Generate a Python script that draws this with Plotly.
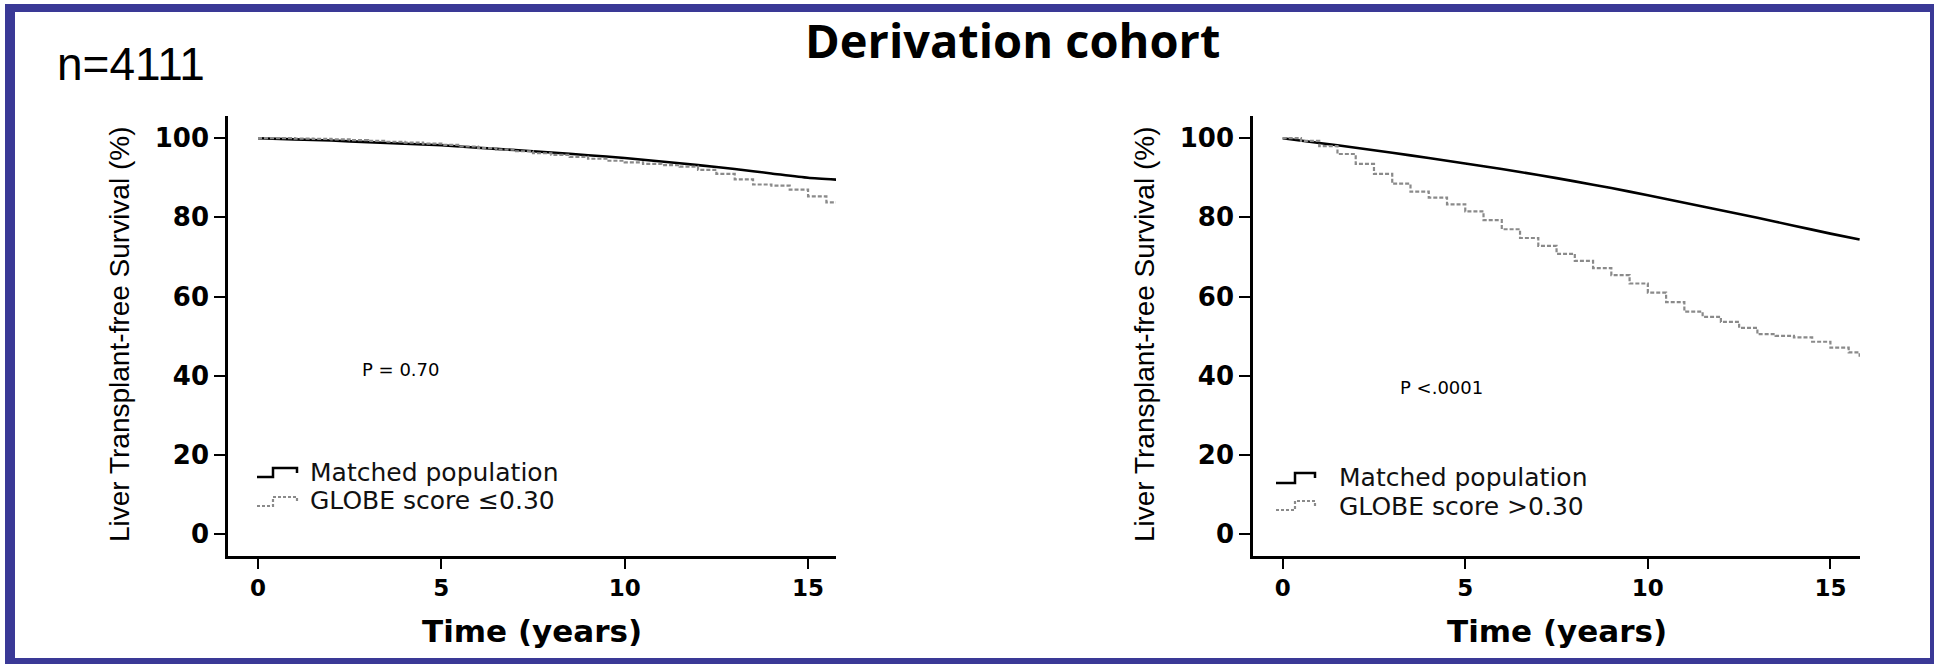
import plotly.graph_objects as go

# ---------------- data ----------------
# Matched (expected) population survival, yearly
matched_years = [0, 1, 2, 3, 4, 5, 6, 7, 8, 9, 10, 11, 12, 13, 14, 15, 15.8]
matched_low = [100, 99.7, 99.4, 99.0, 98.6, 98.2, 97.6, 97.0, 96.4, 95.7, 95.0,
               94.1, 93.2, 92.2, 91.1, 90.0, 89.5]
matched_high = [100, 98.8, 97.6, 96.3, 95.0, 93.6, 92.2, 90.7, 89.1, 87.4, 85.6,
                83.7, 81.8, 79.9, 77.9, 75.9, 74.4]

# Kaplan-Meier estimates, half-year resolution
km_years = [0, 0.5, 1, 1.5, 2, 2.5, 3, 3.5, 4, 4.5, 5, 5.5, 6, 6.5, 7, 7.5, 8,
            8.5, 9, 9.5, 10, 10.5, 11, 11.5, 12, 12.5, 13, 13.5, 14, 14.5, 15,
            15.5, 15.8]
globe_low = [100, 100, 99.9, 99.8, 99.7, 99.5, 99.3, 99.1, 98.9, 98.6, 98.3,
             97.9, 97.5, 97.1, 96.7, 96.2, 95.8, 95.3, 94.8, 94.3, 93.9, 93.5,
             93.2, 92.8, 92.0, 91.0, 89.6, 88.3, 88.0, 87.0, 85.3, 83.8, 83.0]
globe_high = [100, 99.3, 98.0, 96.0, 93.5, 91.0, 88.5, 86.5, 85.0, 83.3, 81.5,
              79.3, 77.0, 74.8, 72.8, 70.8, 69.0, 67.2, 65.4, 63.3, 61.0, 58.6,
              56.2, 54.9, 53.6, 52.1, 50.5, 50.1, 49.7, 48.6, 47.1, 45.9, 44.8]

x_ticks = [0, 5, 10, 15]
y_ticks = [0, 20, 40, 60, 80, 100]

panel_labels = [
    ("GLOBE score \u22640.30", "P = 0.70"),
    ("GLOBE score >0.30", "P <.0001"),
]

# ---------------- geometry helpers ----------------
W, H = 1934, 664


def fx(px):
    return px / W


def fy(py):
    return 1 - py / H


BLUE = "#3a3996"
GREY = "#8a8a8a"
BOLD_TICK = dict(family="DejaVu Sans", size=26, color="black", weight="bold")
BOLD_XTICK = dict(family="DejaVu Sans", size=23, color="black", weight="bold")

fig = go.Figure()

# left panel
fig.add_trace(go.Scatter(x=matched_years, y=matched_low, mode="lines",
                         line=dict(color="black", width=2.6, shape="spline", smoothing=0.6),
                         xaxis="x", yaxis="y", showlegend=False))
fig.add_trace(go.Scatter(x=km_years, y=globe_low, mode="lines",
                         line=dict(color=GREY, width=2.2, shape="hv", dash="4px,2px"),
                         xaxis="x", yaxis="y", showlegend=False))
# right panel
fig.add_trace(go.Scatter(x=matched_years, y=matched_high, mode="lines",
                         line=dict(color="black", width=2.6, shape="spline", smoothing=0.6),
                         xaxis="x2", yaxis="y2", showlegend=False))
fig.add_trace(go.Scatter(x=km_years, y=globe_high, mode="lines",
                         line=dict(color=GREY, width=2.2, shape="hv", dash="4px,2px"),
                         xaxis="x2", yaxis="y2", showlegend=False))

axis_common = dict(showline=True, linecolor="black", linewidth=2.5, ticks="outside",
                   tickcolor="black", tickwidth=2.2, showgrid=False, zeroline=False,
                   fixedrange=True)

y_dom = [fy(556), fy(116)]
y_rng = [-5.5, 105.6]

fig.update_layout(
    width=W, height=H,
    margin=dict(l=0, r=0, t=0, b=0),
    paper_bgcolor="white", plot_bgcolor="white",
    xaxis=dict(domain=[fx(228), fx(836)], range=[-0.818, 15.762], anchor="y",
               tickvals=x_ticks, ticklen=10, tickfont=BOLD_XTICK, **axis_common),
    yaxis=dict(domain=y_dom, range=y_rng, anchor="x",
               tickvals=y_ticks, ticklen=11, tickfont=BOLD_TICK, **axis_common),
    xaxis2=dict(domain=[fx(1253), fx(1860)], range=[-0.813, 15.81], anchor="y2",
                tickvals=x_ticks, ticklen=10, tickfont=BOLD_XTICK, **axis_common),
    yaxis2=dict(domain=y_dom, range=y_rng, anchor="x2",
                tickvals=y_ticks, ticklen=11, tickfont=BOLD_TICK, **axis_common),
)

annotations = []
# headline texts
annotations.append(dict(text="Derivation cohort", x=fx(1012), y=fy(40),
                        font=dict(family="Open Sans", size=47, color="black", weight="bold")))
annotations.append(dict(text="n=4111", x=fx(131), y=fy(64),
                        font=dict(family="Liberation Sans", size=46, color="black")))

panels = [
    dict(axis_x=228, axis_end=836, ytitle_x=120, p_xy=(400, 369),
         text_x=308, rows_y=(472, 500)),
    dict(axis_x=1253, axis_end=1860, ytitle_x=1145, p_xy=(1441, 387),
         text_x=1337, rows_y=(477, 506)),
]

for (globe_name, p_text), pn in zip(panel_labels, panels):
    annotations.append(dict(text="Liver Transplant-free Survival (%)", textangle=-90,
                            x=fx(pn["ytitle_x"]), y=fy(335),
                            font=dict(family="Liberation Sans", size=28, color="black")))
    annotations.append(dict(text="Time (years)", x=fx((pn["axis_x"] + pn["axis_end"]) / 2),
                            y=fy(631),
                            font=dict(family="DejaVu Sans", size=31, color="black", weight="bold")))
    annotations.append(dict(text=p_text, x=fx(pn["p_xy"][0]), y=fy(pn["p_xy"][1]),
                            font=dict(family="DejaVu Sans", size=18, color="black")))
    for label, ry in zip(["Matched population", globe_name], pn["rows_y"]):
        annotations.append(dict(text=label, x=fx(pn["text_x"]), y=fy(ry), xanchor="left",
                                font=dict(family="DejaVu Sans", size=25, color="#111111")))

for a in annotations:
    a.setdefault("xanchor", "center")
    a.update(xref="paper", yref="paper", yanchor="middle", showarrow=False)
fig.update_layout(annotations=annotations)

shapes = []


def step_glyph(x0, xm, x1, y_base, y_top, y_end, style):
    path = (f"M {fx(x0)} {fy(y_base)} L {fx(xm)} {fy(y_base)} L {fx(xm)} {fy(y_top)} "
            f"L {fx(x1)} {fy(y_top)} L {fx(x1)} {fy(y_end)}")
    return dict(type="path", path=path, xref="paper", yref="paper", line=style)


solid = dict(color="black", width=2.5)
dotted = dict(color=GREY, width=2.2, dash="3px,2px")
shapes.append(step_glyph(257, 273, 297, 477, 468, 473, solid))
shapes.append(step_glyph(257, 273, 297, 506, 497, 503, dotted))
shapes.append(step_glyph(1276, 1295, 1315, 483, 473, 478, solid))
shapes.append(step_glyph(1276, 1295, 1315, 510, 501, 506, dotted))

# blue frame around the slide
frame = [(5, 4, 15, 664), (5, 4, 1934, 12), (1930, 4, 1934, 664), (5, 658, 1934, 664)]
for x0, y0, x1, y1 in frame:
    shapes.append(dict(type="rect", xref="paper", yref="paper",
                       x0=fx(x0), x1=fx(x1), y0=fy(y1), y1=fy(y0),
                       fillcolor=BLUE, line=dict(width=0)))

fig.update_layout(shapes=shapes)

fig.write_html("out.html")
